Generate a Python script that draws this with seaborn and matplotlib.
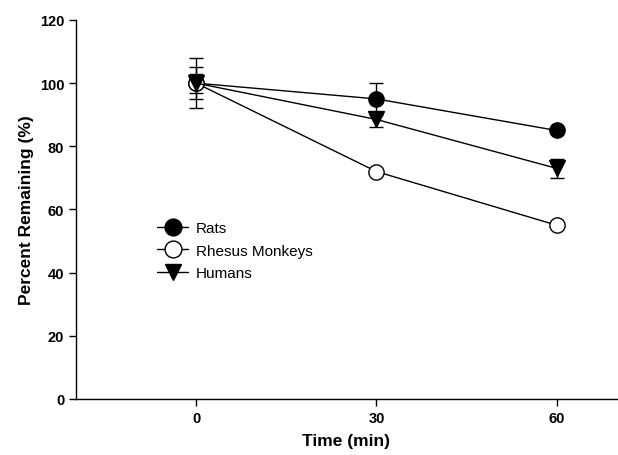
import pandas as pd
import matplotlib.pyplot as plt
import seaborn as sns

# data
time_min = [0, 30, 60]
rats = [100, 95, 85]
rats_err = [5, 5, 0]
monkeys = [100, 72, 55]
monkeys_err = [8, 0, 0]
humans = [100, 88.5, 73]
humans_err = [3, 2.5, 3]
yticks = [0, 20, 40, 60, 80, 100, 120]

sns.set_style("ticks")
plt.rcParams['font.family'] = ['Liberation Sans', 'DejaVu Sans']
plt.rcParams['text.color'] = 'black'
plt.rcParams['axes.labelcolor'] = 'black'
plt.rcParams['xtick.color'] = 'black'
plt.rcParams['ytick.color'] = 'black'

fig = plt.figure(figsize=(6.18, 4.56), dpi=100)
ax = fig.add_axes([0.123, 0.123, 0.875, 0.831])

series = [
    ("Rats", rats, rats_err, "o", "black"),
    ("Rhesus Monkeys", monkeys, monkeys_err, "o", "white"),
    ("Humans", humans, humans_err, "v", "black"),
]

for name, vals, errs, mk, fc in series:
    df = pd.DataFrame({"time": time_min, "pct": vals})
    ax.errorbar(time_min, vals, yerr=errs, fmt="none", ecolor="black",
                elinewidth=1, capsize=5, capthick=1, zorder=2)
    sns.lineplot(data=df, x="time", y="pct", ax=ax, color="black",
                 linewidth=1, marker=mk, markersize=11,
                 markerfacecolor=fc, markeredgecolor="black",
                 markeredgewidth=1, label=name, zorder=3)

ax.set_xlim(-20, 70)
ax.set_ylim(0, 120)
ax.set_xticks(time_min)
ax.set_yticks(yticks)
for lab in ax.get_xticklabels() + ax.get_yticklabels():
    lab.set_fontweight("bold")
ax.tick_params(labelsize=10.5, length=5, width=1, direction="out", color="black")
ax.set_xlabel("Time (min)", fontsize=12.5, fontweight="bold", labelpad=6)
ax.set_ylabel("Percent Remaining (%)", fontsize=12.5, fontweight="bold")
sns.despine(ax=ax)
for sp in ["left", "bottom"]:
    ax.spines[sp].set_linewidth(1)
    ax.spines[sp].set_color("black")

ax.legend(loc="upper left", bbox_to_anchor=(0.125, 0.505), frameon=False,
          fontsize=11, handlelength=2.0, handletextpad=0.5, labelspacing=0.55,
          markerscale=1.1)

fig.savefig("out.png", dpi=100)
